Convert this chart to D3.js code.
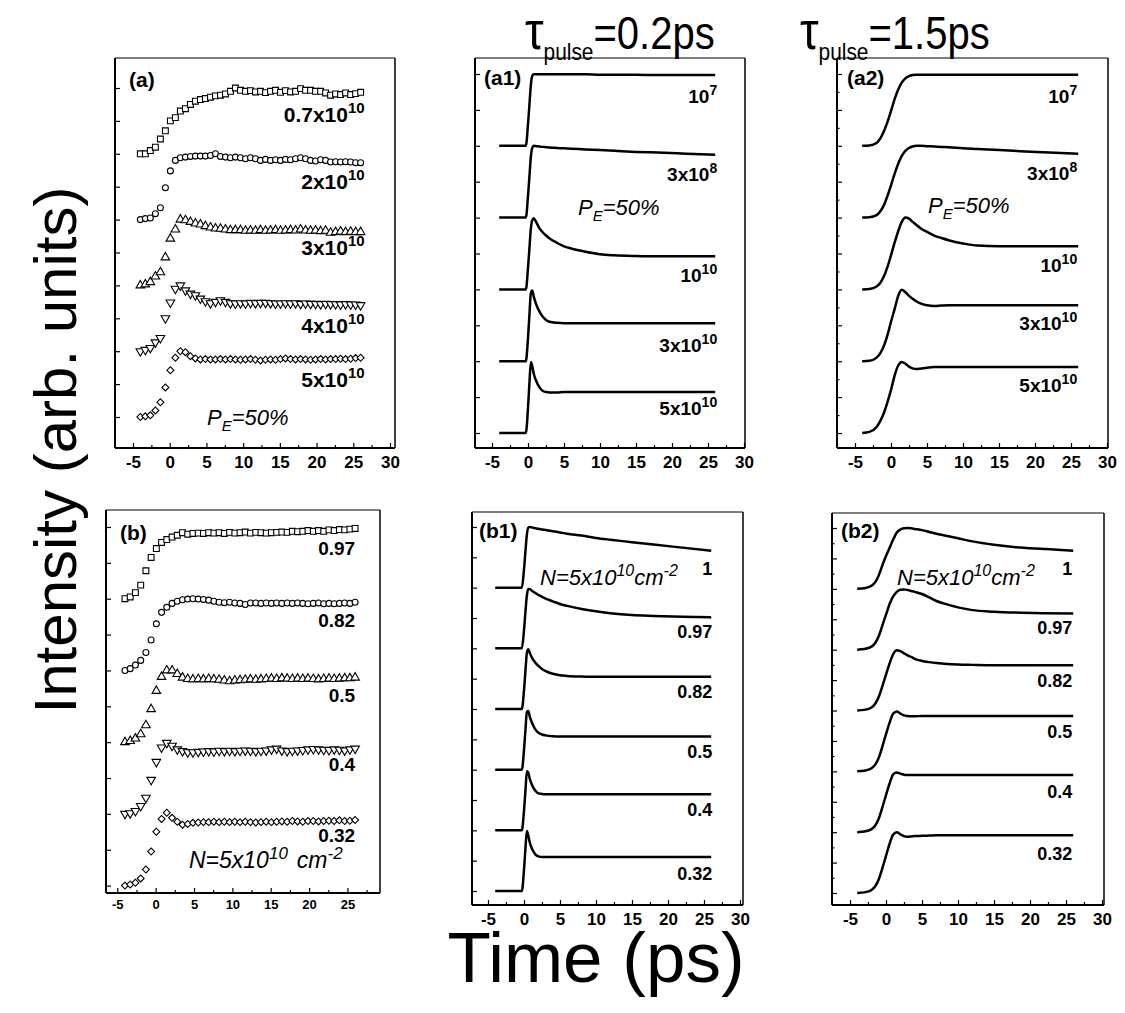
<!DOCTYPE html>
<html>
<head>
<meta charset="utf-8">
<script src="https://cdn.jsdelivr.net/npm/d3@7"></script>
<style>
  body { margin: 0; background: #fff; }
  svg { display: block; }
  text { font-family: "Liberation Sans", Arial, sans-serif; fill: #000; }
</style>
</head>
<body>
<svg id="fig" width="1125" height="1013"></svg>
<script>
// time of the measured points (ps), panels (a) and (b)
var tMeas = [-4, -3.32, -2.64, -1.95, -1.27, -0.59, 0.09, 0.77, 1.45, 2.14, 2.82, 3.5, 4.18, 4.86, 5.55,
    6.23, 6.91, 7.59, 8.27, 8.95, 9.64, 10.32, 11, 11.68, 12.36, 13.05, 13.73, 14.41, 15.09, 15.77,
    16.45, 17.14, 17.82, 18.5, 19.18, 19.86, 20.55, 21.23, 21.91, 22.59, 23.27, 23.95, 24.64, 25.32, 26];

// (a) measured, P_E = 50%, different densities (top to bottom)
var aLabels = [["0.7x10", "10"], ["2x10", "10"], ["3x10", "10"], ["4x10", "10"], ["5x10", "10"]];
var aSquare = [0, 0, 0.1, 0.2, 0.45, 0.7, 1.0, 1.1, 1.3, 1.37, 1.5, 1.6, 1.65, 1.68, 1.72, 1.76, 1.78, 1.82, 1.9, 2.0,
    1.93, 1.9, 1.92, 1.88, 1.9, 1.86, 1.9, 1.93, 1.87, 1.92, 1.88, 1.9, 1.98, 1.93, 1.93, 1.9, 1.9, 1.85, 1.78,
    1.82, 1.8, 1.85, 1.8, 1.83, 1.87];
var aCircle = [0, 0.03, 0.05, 0.18, 0.36, 0.97, 1.48, 1.8, 1.88, 1.9, 1.92, 1.93, 1.93, 1.93, 1.95, 2.0, 1.92, 1.9,
    1.88, 1.9, 1.88, 1.85, 1.88, 1.85, 1.8, 1.83, 1.8, 1.82, 1.8, 1.83, 1.82, 1.85, 1.88, 1.85, 1.8, 1.78, 1.82,
    1.8, 1.75, 1.76, 1.75, 1.76, 1.75, 1.73, 1.73];
var aTriUp = [0, 0.03, 0.1, 0.27, 0.4, 0.85, 1.42, 1.7, 2.0, 1.98, 1.93, 1.88, 1.85, 1.8, 1.76, 1.73, 1.72, 1.7,
    1.68, 1.68, 1.68, 1.66, 1.67, 1.66, 1.68, 1.66, 1.67, 1.68, 1.66, 1.67, 1.68, 1.67, 1.7, 1.67, 1.66, 1.67,
    1.65, 1.66, 1.6, 1.62, 1.64, 1.62, 1.63, 1.62, 1.62];
var aTriDown = [0, 0.04, 0.1, 0.27, 0.4, 1.0, 1.48, 1.9, 2.0, 1.85, 1.75, 1.7, 1.6, 1.52, 1.46, 1.5, 1.55, 1.5,
    1.46, 1.45, 1.46, 1.45, 1.47, 1.46, 1.47, 1.47, 1.46, 1.45, 1.45, 1.46, 1.45, 1.46, 1.44, 1.45, 1.44, 1.44,
    1.43, 1.44, 1.43, 1.43, 1.42, 1.43, 1.42, 1.42, 1.4];
var aDiamond = [0, 0.02, 0.05, 0.2, 0.45, 0.9, 1.42, 1.8, 2.0, 1.97, 1.85, 1.78, 1.75, 1.76, 1.75, 1.75, 1.76, 1.75,
    1.76, 1.75, 1.74, 1.75, 1.76, 1.74, 1.72, 1.74, 1.75, 1.74, 1.76, 1.78, 1.76, 1.75, 1.76, 1.75, 1.74, 1.75,
    1.76, 1.75, 1.76, 1.76, 1.77, 1.76, 1.77, 1.79, 1.8];

// (b) measured, N = 5x10^10 cm^-2, different P_E (top to bottom)
var bLabels = [["0.97"], ["0.82"], ["0.5"], ["0.4"], ["0.32"]];
var bSquare = [0, 0.05, 0.17, 0.38, 0.78, 1.15, 1.4, 1.57, 1.65, 1.72, 1.77, 1.84, 1.8, 1.82, 1.83, 1.82, 1.84, 1.83,
    1.84, 1.82, 1.85, 1.83, 1.84, 1.86, 1.83, 1.85, 1.84, 1.83, 1.84, 1.85, 1.86, 1.85, 1.88, 1.87, 1.88, 1.9,
    1.88, 1.9, 1.88, 1.92, 1.9, 1.93, 1.92, 1.94, 1.96];
var bCircle = [0, 0.05, 0.15, 0.28, 0.5, 0.85, 1.3, 1.62, 1.76, 1.87, 1.93, 1.97, 1.99, 2.0, 1.99, 1.98, 1.96, 1.93,
    1.9, 1.89, 1.9, 1.88, 1.87, 1.84, 1.88, 1.88, 1.87, 1.88, 1.87, 1.88, 1.87, 1.88, 1.87, 1.88, 1.87, 1.86,
    1.87, 1.88, 1.86, 1.87, 1.86, 1.87, 1.88, 1.87, 1.9];
var bTriUp = [0, 0.03, 0.1, 0.22, 0.47, 0.92, 1.43, 1.82, 2.0, 2.0, 1.9, 1.8, 1.76, 1.75, 1.76, 1.75, 1.76, 1.75,
    1.74, 1.72, 1.7, 1.72, 1.73, 1.74, 1.75, 1.74, 1.75, 1.76, 1.77, 1.76, 1.78, 1.77, 1.76, 1.77, 1.76, 1.77,
    1.76, 1.75, 1.76, 1.77, 1.76, 1.77, 1.78, 1.78, 1.8];
var bTriDown = [0, 0.02, 0.08, 0.22, 0.45, 0.95, 1.45, 1.85, 1.98, 1.9, 1.8, 1.75, 1.72, 1.72, 1.73, 1.74, 1.75, 1.74,
    1.76, 1.75, 1.76, 1.75, 1.76, 1.77, 1.76, 1.75, 1.76, 1.77, 1.8, 1.82, 1.77, 1.75, 1.76, 1.77, 1.78, 1.8,
    1.81, 1.8, 1.79, 1.78, 1.8, 1.79, 1.77, 1.8, 1.82];
var bDiamond = [0, 0.03, 0.08, 0.2, 0.45, 0.95, 1.5, 1.86, 2.03, 1.89, 1.78, 1.7, 1.72, 1.75, 1.76, 1.77, 1.77, 1.78,
    1.77, 1.78, 1.77, 1.78, 1.77, 1.78, 1.77, 1.76, 1.77, 1.78, 1.77, 1.78, 1.79, 1.78, 1.8, 1.79, 1.78, 1.8,
    1.8, 1.79, 1.8, 1.81, 1.8, 1.82, 1.8, 1.81, 1.83];

// calculated curves, tau_pulse = 0.2 ps
var tShort = [-4, -0.3, 0, 0.2, 0.4, 0.6, 0.8, 1.2, 1.6, 2, 2.5, 3, 4, 5, 6, 8, 10, 12, 15, 18, 22, 26];
var a1Labels = [["10", "7"], ["3x10", "8"], ["10", "10"], ["3x10", "10"], ["5x10", "10"]];
var a1N1 = [0, 0, 0.6, 1.15, 1.7, 1.95, 1.99, 1.99, 1.99, 1.99, 1.99, 1.99, 1.99, 1.99, 1.99, 1.99, 1.98, 1.98, 1.98, 1.97, 1.97, 1.97];
var a1N2 = [0, 0, 0.6, 1.15, 1.7, 1.95, 2.0, 1.99, 1.98, 1.97, 1.96, 1.95, 1.94, 1.93, 1.92, 1.9, 1.88, 1.86, 1.83, 1.81, 1.78, 1.75];
var a1N3 = [0, 0, 0.6, 1.15, 1.7, 1.93, 1.98, 1.85, 1.7, 1.6, 1.5, 1.42, 1.3, 1.2, 1.14, 1.05, 0.98, 0.95, 0.93, 0.92, 0.92, 0.92];
var a1N4 = [0, 0, 0.65, 1.3, 1.9, 1.97, 1.8, 1.55, 1.38, 1.25, 1.15, 1.1, 1.07, 1.06, 1.06, 1.06, 1.06, 1.06, 1.06, 1.06, 1.06, 1.06];
var a1N5 = [0, 0, 0.7, 1.4, 1.98, 1.85, 1.65, 1.42, 1.27, 1.18, 1.14, 1.13, 1.13, 1.14, 1.14, 1.14, 1.14, 1.14, 1.14, 1.14, 1.14, 1.14];

var b1Labels = [["1"], ["0.97"], ["0.82"], ["0.5"], ["0.4"], ["0.32"]];
var b1P1 = [0, 0, 0.6, 1.2, 1.75, 1.98, 2.0, 1.98, 1.96, 1.94, 1.92, 1.9, 1.86, 1.82, 1.78, 1.72, 1.64, 1.58, 1.5, 1.42, 1.32, 1.22];
var b1P2 = [0, 0, 0.6, 1.2, 1.75, 1.96, 1.95, 1.88, 1.82, 1.76, 1.7, 1.64, 1.55, 1.46, 1.4, 1.3, 1.22, 1.16, 1.1, 1.07, 1.04, 1.02];
var b1P3 = [0, 0, 0.62, 1.25, 1.85, 1.97, 1.85, 1.65, 1.52, 1.42, 1.32, 1.25, 1.16, 1.11, 1.09, 1.07, 1.06, 1.06, 1.06, 1.06, 1.06, 1.06];
var b1P4 = [0, 0, 0.65, 1.3, 1.9, 1.93, 1.75, 1.5, 1.32, 1.22, 1.16, 1.13, 1.1, 1.09, 1.09, 1.09, 1.09, 1.09, 1.09, 1.09, 1.09, 1.09];
var b1P5 = [0, 0, 0.65, 1.3, 1.95, 1.9, 1.7, 1.45, 1.3, 1.22, 1.2, 1.19, 1.19, 1.19, 1.19, 1.19, 1.19, 1.19, 1.19, 1.19, 1.19, 1.19];
var b1P6 = [0, 0, 0.7, 1.4, 1.98, 1.82, 1.6, 1.35, 1.2, 1.14, 1.12, 1.12, 1.12, 1.12, 1.12, 1.12, 1.12, 1.12, 1.12, 1.12, 1.12, 1.12];

// calculated curves, tau_pulse = 1.5 ps
var tLong = [-4, -3, -2, -1.5, -1, -0.5, 0, 0.5, 1, 1.5, 2, 2.5, 3, 3.5, 4, 5, 6, 7, 8, 10, 12, 15, 18, 22, 26];
var a2N1 = [0, 0.01, 0.08, 0.2, 0.4, 0.66, 0.97, 1.3, 1.57, 1.76, 1.88, 1.94, 1.97, 1.98, 1.98, 1.98, 1.98, 1.98, 1.98, 1.98, 1.98, 1.98, 1.98, 1.98, 1.98];
var a2N2 = [0, 0.01, 0.07, 0.17, 0.34, 0.6, 0.9, 1.22, 1.5, 1.72, 1.86, 1.94, 1.98, 2.0, 2.0, 1.99, 1.98, 1.97, 1.96, 1.93, 1.91, 1.88, 1.85, 1.81, 1.78];
var a2N3 = [0, 0.01, 0.08, 0.18, 0.36, 0.62, 0.95, 1.3, 1.62, 1.88, 2.0, 1.97, 1.88, 1.8, 1.72, 1.6, 1.5, 1.43, 1.37, 1.28, 1.22, 1.2, 1.2, 1.2, 1.2];
var a2N4 = [0, 0.01, 0.1, 0.22, 0.42, 0.72, 1.1, 1.45, 1.82, 1.99, 1.92, 1.82, 1.74, 1.67, 1.62, 1.56, 1.54, 1.55, 1.56, 1.56, 1.56, 1.56, 1.56, 1.56, 1.56];
var a2N5 = [0, 0.03, 0.17, 0.33, 0.55, 0.85, 1.2, 1.6, 1.88, 1.98, 1.93, 1.85, 1.8, 1.78, 1.79, 1.82, 1.84, 1.84, 1.84, 1.84, 1.84, 1.84, 1.84, 1.84, 1.84];

var b2P1 = [0, 0.02, 0.1, 0.22, 0.45, 0.78, 1.08, 1.35, 1.62, 1.85, 1.95, 1.99, 2.0, 1.99, 1.97, 1.93, 1.87, 1.81, 1.76, 1.66, 1.56, 1.45, 1.37, 1.31, 1.25];
var b2P2 = [0, 0.02, 0.1, 0.22, 0.45, 0.8, 1.15, 1.5, 1.75, 1.9, 1.97, 1.98, 1.96, 1.93, 1.9, 1.83, 1.72, 1.6, 1.52, 1.39, 1.3, 1.25, 1.22, 1.2, 1.19];
var b2P3 = [0, 0.02, 0.1, 0.22, 0.45, 0.8, 1.18, 1.55, 1.85, 1.98, 1.95, 1.88, 1.81, 1.76, 1.7, 1.63, 1.59, 1.56, 1.54, 1.51, 1.5, 1.49, 1.49, 1.49, 1.49];
var b2P4 = [0, 0.02, 0.1, 0.22, 0.45, 0.82, 1.22, 1.6, 1.9, 1.97, 1.9, 1.84, 1.82, 1.81, 1.81, 1.82, 1.82, 1.82, 1.82, 1.82, 1.82, 1.82, 1.82, 1.82, 1.82];
var b2P5 = [0, 0.02, 0.1, 0.22, 0.45, 0.82, 1.22, 1.6, 1.9, 1.96, 1.92, 1.89, 1.88, 1.88, 1.88, 1.88, 1.88, 1.88, 1.88, 1.88, 1.88, 1.88, 1.88, 1.88, 1.88];
var b2P6 = [0, 0.02, 0.1, 0.22, 0.45, 0.82, 1.22, 1.62, 1.92, 2.0, 1.93, 1.87, 1.85, 1.86, 1.87, 1.88, 1.89, 1.9, 1.9, 1.9, 1.9, 1.9, 1.9, 1.9, 1.9];

var xTicks = [-5, 0, 5, 10, 15, 20, 25, 30];
var xTicksB = [-5, 0, 5, 10, 15, 20, 25];

var svg = d3.select("#fig");

var markers = [
    d3.symbol().type(d3.symbolSquare).size(34),
    d3.symbol().type(d3.symbolCircle).size(28),
    d3.symbol().type(d3.symbolTriangle).size(32),
    d3.symbol().type(d3.symbolTriangle).size(32),
    d3.symbol().type(d3.symbolSquare).size(24)
];
var markerRot = [0, 0, 0, 180, 45];

// label with an optional superscript, right aligned
var addLabel = function (g, x, y, parts, size) {
    var t = g.append("text")
        .attr("x", x).attr("y", y)
        .attr("text-anchor", "end")
        .attr("font-weight", "bold")
        .attr("font-size", size + "px");
    t.append("tspan").text(parts[0]);
    if (parts[1]) {
        t.append("tspan").attr("dy", -size * 0.42).attr("font-size", Math.round(size * 0.72) + "px").text(parts[1]);
    }
};

var drawPanel = function (p) {
    var x = d3.scaleLinear().domain([-5, 30]).range(p.xRange),
        y = d3.scaleLinear().domain(p.yDomain).range(p.yRange);
    var g = svg.append("g");

    // frame
    g.append("line").attr("x1", p.l).attr("x2", p.r).attr("y1", p.t).attr("y2", p.t).attr("stroke", "#000").attr("stroke-width", 1.2);
    g.append("line").attr("x1", p.r).attr("x2", p.r).attr("y1", p.t).attr("y2", p.b).attr("stroke", "#000").attr("stroke-width", 1.5);
    g.append("line").attr("x1", p.l).attr("x2", p.l).attr("y1", p.t).attr("y2", p.b).attr("stroke", "#000").attr("stroke-width", 2);
    g.append("line").attr("x1", p.l).attr("x2", p.r).attr("y1", p.b).attr("y2", p.b).attr("stroke", "#000").attr("stroke-width", 2);

    // x axis, ticks pointing in
    var xa = g.append("g")
        .attr("transform", "translate(0," + p.b + ")")
        .call(d3.axisBottom(x).tickValues(p.xTicks).tickSize(-5).tickPadding(p.tickPad)
            .tickFormat(function (d) { return String(d); }));
    xa.select(".domain").remove();
    xa.selectAll("text")
        .attr("font-family", "Liberation Sans, Arial, sans-serif")
        .attr("font-weight", "bold")
        .attr("font-size", p.tickFont + "px");
    var minor = g.append("g")
        .attr("transform", "translate(0," + p.b + ")")
        .call(d3.axisBottom(x).tickValues(p.xTicks.map(function (d) { return d + 2.5; }).filter(function (d) { return x(d) < p.r; }))
            .tickSize(-3).tickFormat(""));
    minor.select(".domain").remove();
    minor.selectAll("text").remove();

    // y axis, no labels
    var ya = g.append("g")
        .attr("transform", "translate(" + p.l + ",0)")
        .call(d3.axisLeft(y).tickValues(d3.range(p.yTicks[0], p.yTicks[1] + 1)).tickSize(-5).tickFormat(""));
    ya.select(".domain").remove();
    ya.selectAll("text").remove();
    if (p.yMinor) {
        var ym = g.append("g")
            .attr("transform", "translate(" + p.l + ",0)")
            .call(d3.axisLeft(y).tickValues(d3.range(p.yTicks[0], p.yTicks[1]).map(function (d) { return d + 0.5; })).tickSize(-2.5).tickFormat(""));
        ym.select(".domain").remove();
        ym.selectAll("text").remove();
    }
    g.selectAll(".tick line").attr("stroke-width", 1.2);

    var n = p.series.length;
    p.series.forEach(function (s, i) {
        var base = 2 * (n - 1 - i);
        if (p.kind == "points") {
            g.append("g").selectAll("path")
                .data(s)
                .enter().append("path")
                .attr("d", markers[i])
                .attr("transform", function (d, k) {
                    return "translate(" + x(tMeas[k]) + "," + y(base + d) + ") rotate(" + markerRot[i] + ")";
                })
                .attr("fill", "#fff")
                .attr("stroke", "#000")
                .attr("stroke-width", 1.1);
        } else {
            var line = d3.line()
                .x(function (d, k) { return x(p.time[k]); })
                .y(function (d) { return y(base + d); })
                .curve(d3.curveMonotoneX);
            g.append("path")
                .datum(s)
                .attr("d", line)
                .attr("fill", "none")
                .attr("stroke", "#000")
                .attr("stroke-width", 2.5);
        }
        addLabel(g, x(26) + p.labelDx, y(base + s[s.length - 1]) + p.labelDy[i], p.labels[i], p.labelFont);
    });

    g.append("text")
        .attr("x", p.tag[1]).attr("y", p.tag[2])
        .attr("font-weight", "bold").attr("font-size", "21px")
        .text(p.tag[0]);
};

var panels = [
    { l: 115, r: 395, t: 58, b: 448, xRange: [133, 390], yDomain: [0, 10], yRange: [417, 88], yTicks: [0, 10],
      xTicks: xTicks, tickPad: 8, tickFont: 17, kind: "points", labels: aLabels,
      series: [aSquare, aCircle, aTriUp, aTriDown, aDiamond], labelDx: 4, labelDy: [30, 26, 23, 28, 29], labelFont: 21,
      tag: ["(a)", 129, 87] },
    { l: 475, r: 745, t: 58, b: 448, xRange: [492, 744], yDomain: [0, 10], yRange: [433, 74], yTicks: [0, 10], yMinor: false,
      xTicks: xTicks, tickPad: 8, tickFont: 17, kind: "lines", time: tShort, labels: a1Labels,
      series: [a1N1, a1N2, a1N3, a1N4, a1N5], labelDx: 2, labelDy: [28, 26, 26, 29, 23], labelFont: 19,
      tag: ["(a1)", 484, 85] },
    { l: 837, r: 1108, t: 58, b: 448, xRange: [855, 1107], yDomain: [0, 10], yRange: [433, 74], yTicks: [0, 10], yMinor: true,
      xTicks: xTicks, tickPad: 8, tickFont: 17, kind: "lines", time: tLong, labels: a1Labels,
      series: [a2N1, a2N2, a2N3, a2N4, a2N5], labelDx: -1, labelDy: [28, 26, 26, 25, 25], labelFont: 19,
      tag: ["(a2)", 847, 85] },
    { l: 106, r: 380, t: 510, b: 893, xRange: [117.3, 385.8], yDomain: [0, 10], yRange: [885.6, 527], yTicks: [0, 10],
      xTicks: xTicksB, tickPad: 7, tickFont: 13, kind: "points", labels: bLabels,
      series: [bSquare, bCircle, bTriUp, bTriDown, bDiamond], labelDx: 0, labelDy: [27, 25, 24, 22, 22], labelFont: 19,
      tag: ["(b)", 120, 540] },
    { l: 472, r: 743, t: 512, b: 905, xRange: [488, 740], yDomain: [0, 12], yRange: [891, 527], yTicks: [0, 12], yMinor: false,
      xTicks: xTicks, tickPad: 8, tickFont: 17, kind: "lines", time: tShort, labels: b1Labels,
      series: [b1P1, b1P2, b1P3, b1P4, b1P5, b1P6], labelDx: 1, labelDy: [24, 21, 21, 21, 22, 23], labelFont: 18,
      tag: ["(b1)", 479, 538] },
    { l: 832, r: 1104, t: 513, b: 905, xRange: [850, 1102], yDomain: [0, 12], yRange: [893, 528], yTicks: [0, 12], yMinor: true,
      xTicks: xTicks, tickPad: 8, tickFont: 17, kind: "lines", time: tLong, labels: b1Labels,
      series: [b2P1, b2P2, b2P3, b2P4, b2P5, b2P6], labelDx: -1, labelDy: [24, 21, 22, 22, 23, 25], labelFont: 18,
      tag: ["(b2)", 841, 538] }
];

panels.forEach(drawPanel);

// P_E = 50% notes
var addPE = function (x, y) {
    var t = svg.append("text").attr("x", x).attr("y", y)
        .attr("font-style", "italic").attr("font-size", "22px");
    t.append("tspan").text("P");
    t.append("tspan").attr("dy", 6).attr("font-size", "15px").text("E");
    t.append("tspan").attr("dy", -6).text("=50%");
};
addPE(207, 425);
addPE(578, 215);
addPE(928, 213);

// N = 5x10^10 cm^-2 notes
var addN = function (x, y, size, gap) {
    var t = svg.append("text").attr("x", x).attr("y", y)
        .attr("font-style", "italic").attr("font-size", size + "px");
    t.append("tspan").text("N=5x10");
    t.append("tspan").attr("dy", -size * 0.4).attr("font-size", Math.round(size * 0.72) + "px").text("10");
    t.append("tspan").attr("dy", size * 0.4).attr("dx", gap).text("cm");
    t.append("tspan").attr("dy", -size * 0.4).attr("font-size", Math.round(size * 0.72) + "px").text("-2");
};
addN(189, 868, 23, 9);
addN(540, 585, 22, 0);
addN(897, 585, 22, 0);

// column titles
var addTitle = function (x, value) {
    var t = svg.append("text")
        .attr("transform", "translate(" + x + ",49) scale(0.87,1)")
        .attr("font-size", "46px");
    t.append("tspan").attr("font-size", "54px").text("\u03c4");
    t.append("tspan").attr("dy", 11).attr("font-size", "24px").text("pulse");
    t.append("tspan").attr("dy", -11).text("=" + value + "ps");
};
addTitle(525, "0.2");
addTitle(800, "1.5");

// axis titles
svg.append("text")
    .attr("transform", "translate(76,450) rotate(-90)")
    .attr("text-anchor", "middle")
    .attr("font-size", "60px")
    .text("Intensity (arb. units)");

svg.append("text")
    .attr("x", 596).attr("y", 982)
    .attr("text-anchor", "middle")
    .attr("font-size", "71px")
    .text("Time (ps)");
</script>
</body>
</html>
